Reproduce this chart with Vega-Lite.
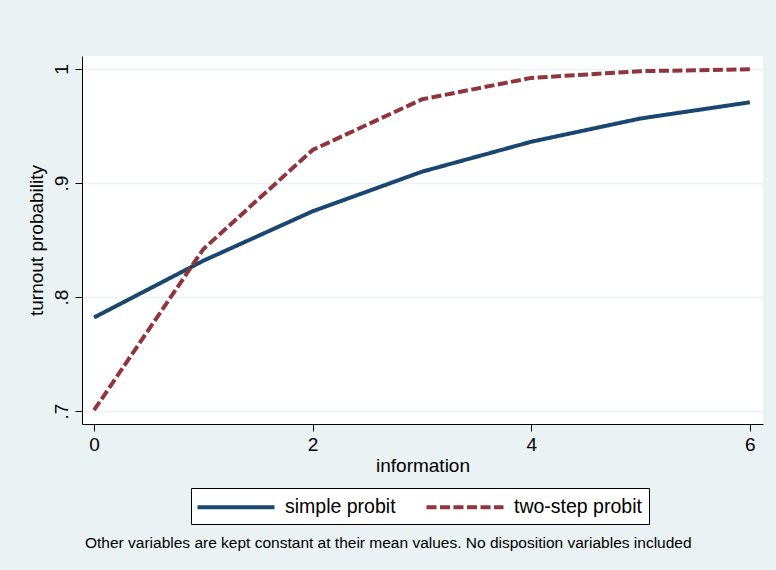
{
  "$schema": "https://vega.github.io/schema/vega-lite/v6.json",
  "width": 681,
  "height": 368,
  "autosize": {"type": "none"},
  "padding": {"left": 82, "top": 56, "right": 13, "bottom": 146},
  "background": "#EAF2F3",
  "config": {
    "view": {"fill": "white", "stroke": null},
    "font": "Liberation Sans"
  },
  "title": {
    "text": "Other variables are kept constant at their mean values. No disposition variables included",
    "orient": "bottom",
    "anchor": "start",
    "frame": "group",
    "dx": 3,
    "fontSize": 15.5,
    "fontWeight": "normal",
    "font": "Liberation Sans",
    "color": "black",
    "offset": 11
  },
  "data": {
    "values": [
      {"information": 0, "prob": 0.7820, "model": "simple probit"},
      {"information": 1, "prob": 0.8318, "model": "simple probit"},
      {"information": 2, "prob": 0.8752, "model": "simple probit"},
      {"information": 3, "prob": 0.9099, "model": "simple probit"},
      {"information": 4, "prob": 0.9362, "model": "simple probit"},
      {"information": 5, "prob": 0.9566, "model": "simple probit"},
      {"information": 6, "prob": 0.9708, "model": "simple probit"},
      {"information": 0, "prob": 0.7007, "model": "two-step probit"},
      {"information": 1, "prob": 0.8420, "model": "two-step probit"},
      {"information": 2, "prob": 0.9290, "model": "two-step probit"},
      {"information": 3, "prob": 0.9734, "model": "two-step probit"},
      {"information": 4, "prob": 0.9922, "model": "two-step probit"},
      {"information": 5, "prob": 0.9981, "model": "two-step probit"},
      {"information": 6, "prob": 0.9997, "model": "two-step probit"}
    ]
  },
  "mark": {"type": "line", "strokeWidth": 4, "strokeCap": "butt", "strokeJoin": "round"},
  "encoding": {
    "x": {
      "field": "information",
      "type": "quantitative",
      "scale": {"domain": [-0.11, 6.12], "nice": false, "zero": false},
      "axis": {
        "values": [0, 2, 4, 6],
        "title": "information",
        "grid": false,
        "domainColor": "#000000",
        "tickColor": "#000000",
        "tickSize": 7,
        "labelFontSize": 19,
        "labelColor": "black",
        "labelPadding": 4,
        "titleFontSize": 19,
        "titleFontWeight": "normal",
        "titleColor": "black",
        "titlePadding": 2
      }
    },
    "y": {
      "field": "prob",
      "type": "quantitative",
      "scale": {"domain": [0.6886, 1.0114], "nice": false, "zero": false},
      "axis": {
        "values": [0.7, 0.8, 0.9, 1],
        "labelExpr": "datum.value == 1 ? '1' : replace(format(datum.value, '.1f'), '0.', '.')",
        "title": "turnout probability",
        "grid": true,
        "gridColor": "#EAF2F3",
        "gridWidth": 1.5,
        "domainColor": "#000000",
        "tickColor": "#000000",
        "tickSize": 7,
        "labelAngle": 270,
        "labelAlign": "center",
        "labelBaseline": "bottom",
        "labelFontSize": 19,
        "labelColor": "black",
        "labelPadding": 4,
        "titleFontSize": 19,
        "titleFontWeight": "normal",
        "titleColor": "black",
        "titlePadding": 6
      }
    },
    "color": {
      "field": "model",
      "type": "nominal",
      "scale": {"domain": ["simple probit", "two-step probit"], "range": ["#1A476F", "#90353B"]},
      "legend": {
        "title": null,
        "orient": "none",
        "legendX": 109,
        "legendY": 432,
        "direction": "horizontal",
        "columns": 2,
        "fillColor": "white",
        "strokeColor": "black",
        "padding": 7,
        "symbolType": "M-3.85,0H3.85",
        "symbolSize": 400,
        "symbolStrokeWidth": 4,
        "symbolOffset": 26,
        "labelOffset": 37,
        "labelFontSize": 19.5,
        "labelColor": "black",
        "columnPadding": 22
      }
    },
    "strokeDash": {
      "field": "model",
      "type": "nominal",
      "scale": {"domain": ["simple probit", "two-step probit"], "range": [[1, 0], [10, 3.5]]},
      "legend": null
    }
  }
}
